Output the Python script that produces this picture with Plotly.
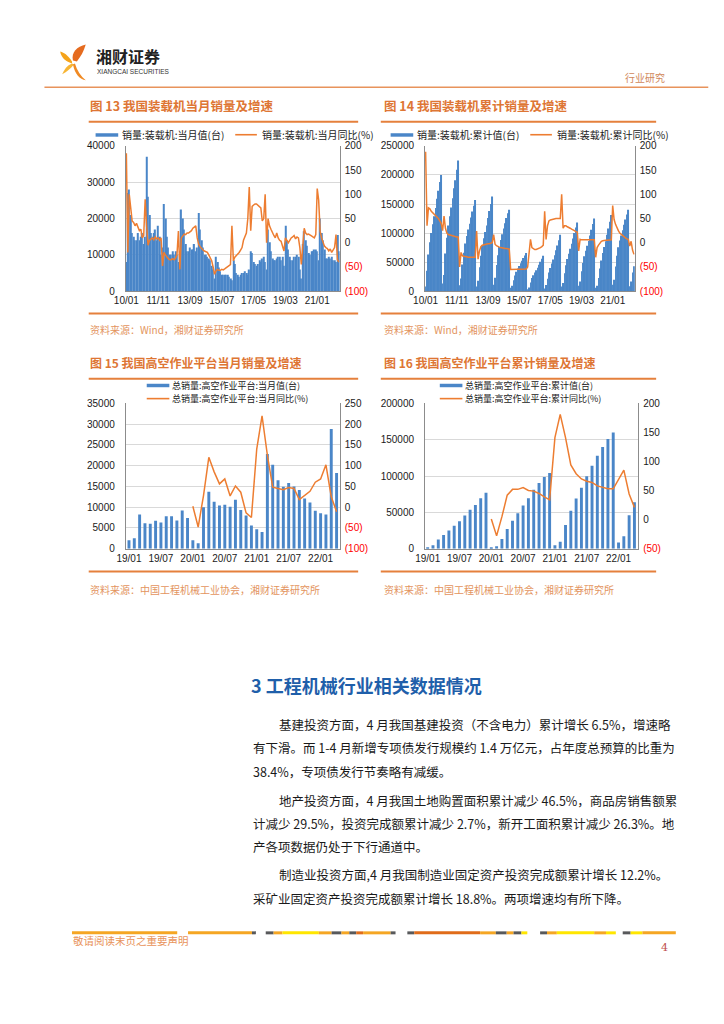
import plotly.graph_objects as go
import pandas as pd

W, H = 724, 1024
CJK = "Noto Sans CJK SC"
NUM = "Liberation Sans, Arial, sans-serif"
BAR_COLOR = "#4A86C8"
LINE_COLOR = "#ED7D31"
TITLE_COLOR = "#DE7634"
SRC_COLOR = "#E3945E"
RULE_COLOR = "#E5803C"

# ---------------- data ----------------
loader_month = pd.date_range("2010-01-01", periods=148, freq="MS").strftime("%Y-%m").tolist()

loader_monthly_sales = [
    8000, 27000, 28000, 21000, 16000, 15000, 14000, 14000, 16000, 14000, 15000, 16000,
    13000, 15000, 37000, 26000, 21000, 16000, 15000, 16000, 17000, 14000, 18000, 15000,
    10000, 12000, 24000, 20000, 15000, 12000, 10000, 10000, 11000, 10000, 11000, 10000,
    8000, 10000, 22500, 20000, 17000, 13000, 11000, 11000, 12000, 11500, 11500, 13000,
    11000, 12000, 21500, 17000, 14000, 12000, 10000, 10000, 9500, 9000, 8500, 7000,
    6000, 3500, 9500, 8000, 6500, 5500, 4500, 4500, 4500, 4500, 4500, 4000,
    3500, 3000, 8500, 7500, 5000, 4500, 4000, 4500, 5000, 5000, 5500, 5000,
    4500, 6000, 11000, 10500, 8000, 7500, 7000, 7500, 8500, 8000, 9000, 9500,
    8000, 6000, 17000, 13500, 11000, 9000, 8500, 8500, 9000, 9500, 9500, 8500,
    9500, 7000, 18000, 14000, 11500, 9500, 8500, 8500, 9500, 9500, 10000, 9500,
    6000, 3500, 13000, 16500, 14000, 12500, 10500, 10000, 11000, 11000, 11500, 11500,
    11000, 8500, 20000, 16000, 14000, 11500, 9000, 9000, 9500, 9000, 9500, 8500,
    8500, 8000, 15500, 11000,
]

loader_monthly_yoy = [
    185, -20, 100, 70, 45, 42, 35, 40, 30, 25, 28, 10,
    15, 90, 35, -5, 5, 8, 10, 6, 12, 8, 10, 5,
    10, -48, -20, -25, -30, -33, -35, -35, -33, -35, -32, -25,
    24, -55, 10, 15, 18, 17, 20, 20, 22, 25, 30, 33,
    35, 10, -3, -8, -12, -15, -17, -18, -20, -25, -30, -37,
    -50, -65, -58, -55, -57, -57, -55, -56, -54, -52, -50, -48,
    -45, 35, -37, -30, -27, -24, -20, -15, -10, 5, 14, 20,
    50, 115, 25, 75, 78, 80, 80, 77, 75, 72, 45, 50,
    100, 0, 50, 35, 28, 20, 15, 10, 20, 10, 5, 3,
    -5, -17, 10, 5, 0, 5, 10, 12, 15, 8, 12, 10,
    -10, -45, -10, 30, 20, 17, 18, 15, 14, 12, 10, 17,
    112, 88, 24, 10, 0, -7, -10, -12, -17, -13, -20, -15,
    -10, 17, -35, -40,
]

loader_cum_sales = [
    8000, 35000, 63000, 84000, 100000, 115000, 129000, 143000, 159000, 173000, 188000, 200000,
    13000, 28000, 65000, 92000, 113000, 129000, 144000, 160000, 177000, 191000, 209000, 225000,
    10000, 22000, 46000, 66000, 82000, 95000, 106000, 116000, 127000, 137000, 147000, 157000,
    8000, 18000, 41000, 61000, 78000, 91000, 102000, 113000, 126000, 138000, 150000, 163000,
    11000, 23000, 45000, 62000, 76000, 88000, 98000, 108000, 117000, 126000, 134000, 140000,
    6000, 9500, 19000, 27000, 33500, 39000, 43500, 48000, 52500, 57000, 61500, 65500,
    3500, 6500, 15000, 22500, 27500, 32000, 36000, 40500, 45500, 50500, 56000, 61000,
    4500, 10500, 21500, 32000, 40000, 47500, 54500, 62000, 70500, 78500, 87500, 97000,
    8000, 14000, 31000, 44500, 55500, 64500, 73000, 81500, 90500, 100000, 109500, 118000,
    9500, 16500, 34500, 48500, 60000, 69500, 78000, 86500, 96000, 105500, 115500, 125000,
    6000, 9500, 22500, 39000, 53000, 65500, 76000, 86000, 97000, 108000, 119500, 131000,
    11000, 19500, 42500, 61000, 75500, 87000, 96000, 105000, 114500, 123500, 132000, 140000,
    8500, 16500, 32000, 43000,
]

loader_cum_yoy = [
    188, 35, 72, 70, 65, 62, 60, 58, 55, 50, 45, 40,
    25, 55, 30, 20, 17, 16, 15, 14, 13, 13, 12, 12,
    -50, -20, -27, -28, -28, -29, -30, -30, -30, -30, -31, -30,
    24, -34, -17, -8, -5, -4, -3, -2, -2, -2, -1, 0,
    17, -3, -6, -8, -9, -10, -11, -11, -12, -12, -13, -13,
    -55, -55, -54, -55, -55, -55, -55, -55, -55, -55, -55, -54,
    -50, -20, 7, -10, -13, -14, -14, -13, -12, -10, -8, -5,
    65, 7, 35, 45, 47, 48, 48, 49, 50, 50, 50, 50,
    100, 30, 35, 35, 33, 32, 30, 28, 27, 25, 23, 22,
    -17, 7, 6, 6, 6, 6, 6, 6, 6, 6, 6, 6,
    -30, -10, -5, 0, 3, 4, 5, 5, 5, 5, 6, 6,
    77, 48, 38, 30, 25, 20, 17, 14, 12, 10, 8, 7,
    -7, 3, -15, -24,
]

loader_tick_month = ["2010-01", "2011-11", "2013-09", "2015-07", "2017-05", "2019-03", "2021-01"]
loader_tick_label = ["10/01", "11/11", "13/09", "15/07", "17/05", "19/03", "21/01"]

awp_month = pd.date_range("2019-01-01", periods=40, freq="MS").strftime("%Y-%m").tolist()

awp_monthly_sales = [
    2000, 2500, 8200, 6100, 6000, 6700, 6300, 7800, 7800, 6800, 9200, 7400,
    2000, 1300, 10000, 13700, 11300, 10400, 10600, 10100, 11800, 9300, 8000, 5600,
    4700, 4000, 22800, 20200, 16500, 14900, 15800, 15000, 14100, 12100, 11100, 9100,
    8500, 8200, 28800, 18200,
]
awp_monthly_yoy = [
    None, None, None, None, None, None, None, None, None, None, None, None,
    2, -48, 28, 120, 85, 56, 68, 27, 51, 36, -14, -25,
    140, 220, 125, 48, 45, 42, 47, 45, 18, 28, 38, 60,
    68, 102, 25, -11,
]
awp_cum_sales = [
    2000, 4500, 12700, 18800, 24800, 31500, 37800, 45600, 53400, 60200, 69400, 76800,
    2000, 3300, 13300, 27000, 38300, 48700, 59300, 69400, 81200, 90500, 98500, 104100,
    4700, 9500, 32500, 52000, 69000, 84000, 99500, 114000, 128000, 140000, 151000, 160000,
    8500, 17000, 46000, 64000,
]
awp_cum_yoy = [
    None, None, None, None, None, None, None, None, None, None, None, None,
    1, -28, 5, 42, 52, 52, 55, 50, 49, 45, 39, 34,
    141, 181, 141, 94, 79, 70, 66, 64, 58, 55, 53, 53,
    70, 85, 44, 21,
]
awp_tick_month = ["2019-01", "2019-07", "2020-01", "2020-07", "2021-01", "2021-07", "2022-01"]
awp_tick_label = ["19/01", "19/07", "20/01", "20/07", "21/01", "21/07", "22/01"]

# ---------------- helpers ----------------
def X(p):
    return p / W

def Y(p):
    return 1 - p / H

annotations = []
shapes = []

def note(x, y, text, size, color, xanchor="left", family=CJK, pad=1):
    annotations.append(dict(x=X(x), y=Y(y), xref="paper", yref="paper", text=text,
                            showarrow=False, xanchor=xanchor, yanchor="middle", borderpad=pad,
                            font=dict(family=family, size=size, color=color)))

def hline(x0, x1, y, color, width=2):
    shapes.append(dict(type="line", xref="paper", yref="paper", x0=X(x0), x1=X(x1),
                       y0=Y(y), y1=Y(y), line=dict(color=color, width=width)))

def rect(x0, x1, y0, y1, color):
    shapes.append(dict(type="rect", xref="paper", yref="paper", x0=X(x0), x1=X(x1),
                       y0=Y(y1), y1=Y(y0), fillcolor=color, line=dict(width=0)))

def path(cmds, color):
    parts = []
    for c in cmds:
        op, nums = c[0], c[1:]
        coords = []
        for k in range(0, len(nums), 2):
            coords.append(f"{X(nums[k]):.5f},{Y(nums[k + 1]):.5f}")
        parts.append(op + " " + " ".join(coords))
    shapes.append(dict(type="path", xref="paper", yref="paper", path=" ".join(parts) + " Z",
                       fillcolor=color, line=dict(width=0)))

def right_text(vals):
    out = []
    for v in vals:
        if v < 0:
            out.append(f"<span style='color:#FF0000'>({-v})</span>")
        else:
            out.append(str(v))
    return out

# ---------------- charts ----------------
charts = [
    dict(months=loader_month, bars=loader_monthly_sales, line=loader_monthly_yoy,
         bar_name="销量:装载机:当月值(台)", line_name="销量:装载机:当月同比(%)",
         px0=115.7, px1=333.3, py0=142.3, py1=289.0,
         yl=[0, 40000], dl=10000, yr=[-100, 200], rticks=[-100, -50, 0, 50, 100, 150, 200],
         tv=loader_tick_month, tt=loader_tick_label, width=0.8, xr=[-0.4, 147.6]),
    dict(months=loader_month, bars=loader_cum_sales, line=loader_cum_yoy,
         bar_name="销量:装载机:累计值(台)", line_name="销量:装载机:累计同比(%)",
         px0=420.0, px1=633.3, py0=142.3, py1=289.0,
         yl=[0, 250000], dl=50000, yr=[-100, 200], rticks=[-100, -50, 0, 50, 100, 150, 200],
         tv=loader_tick_month, tt=loader_tick_label, width=0.6, xr=[-0.4, 147.6]),
    dict(months=awp_month, bars=awp_monthly_sales, line=awp_monthly_yoy,
         bar_name="总销量:高空作业平台:当月值(台)", line_name="总销量:高空作业平台:当月同比(%)",
         px0=115.7, px1=333.3, py0=402.3, py1=549.0,
         yl=[0, 35000], dl=5000, yr=[-100, 250], rticks=[-100, -50, 0, 50, 100, 150, 200, 250],
         tv=awp_tick_month, tt=awp_tick_label, width=0.55, xr=[-0.6, 39.6]),
    dict(months=awp_month, bars=awp_cum_sales, line=awp_cum_yoy,
         bar_name="总销量:高空作业平台:累计值(台)", line_name="总销量:高空作业平台:累计同比(%)",
         px0=420.0, px1=636.7, py0=402.3, py1=549.0,
         yl=[0, 200000], dl=50000, yr=[-50, 200], rticks=[-50, 0, 50, 100, 150, 200],
         tv=awp_tick_month, tt=awp_tick_label, width=0.55, xr=[-0.5, 39.7]),
]

fig = go.Figure()
layout_axes = {}
AX_LINE = "#8C8C8C"
TICKFONT = dict(family=NUM, size=10, color="#1A1A1A")

for i, c in enumerate(charts, start=1):
    xa = "x" if i == 1 else f"x{i}"
    yl_id = 2 * i - 1
    yr_id = 2 * i
    yl = "y" if yl_id == 1 else f"y{yl_id}"
    yr = f"y{yr_id}"
    fig.add_trace(go.Bar(x=c["months"], y=c["bars"], name=c["bar_name"], marker_color=BAR_COLOR,
                         marker_line_width=0, width=c["width"], xaxis=xa, yaxis=yl, showlegend=False))
    fig.add_trace(go.Scatter(x=c["months"], y=c["line"], name=c["line_name"], mode="lines",
                             line=dict(color=LINE_COLOR, width=1.5), connectgaps=False,
                             xaxis=xa, yaxis=yr, showlegend=False))
    xkey = "xaxis" if i == 1 else f"xaxis{i}"
    ylkey = "yaxis" if yl_id == 1 else f"yaxis{yl_id}"
    yrkey = f"yaxis{yr_id}"
    layout_axes[xkey] = dict(type="category", domain=[X(c["px0"]), X(c["px1"])], range=c["xr"],
                             anchor=yl, tickmode="array", tickvals=c["tv"], ticktext=c["tt"],
                             showline=True, linecolor=AX_LINE, linewidth=1, showgrid=False,
                             ticks="", tickangle=0, tickfont=TICKFONT, fixedrange=True)
    layout_axes[ylkey] = dict(domain=[Y(c["py1"]), Y(c["py0"])], range=c["yl"], dtick=c["dl"],
                              tick0=0, anchor=xa, showgrid=True, gridcolor="#D9D9D9", gridwidth=1,
                              showline=True, linecolor=AX_LINE, linewidth=1, zeroline=False,
                              ticks="", ticklabelstandoff=8, tickfont=TICKFONT, tickformat="d")
    layout_axes[yrkey] = dict(overlaying=yl, side="right", anchor=xa, range=c["yr"],
                              tickmode="array", tickvals=c["rticks"], ticktext=right_text(c["rticks"]),
                              showgrid=False, showline=True, linecolor=AX_LINE, linewidth=1,
                              zeroline=False, ticks="", ticklabelstandoff=2, tickfont=TICKFONT)

# ---------------- manual legends ----------------
LEG = 10
LEG2 = 9
# chart 13
rect(85, 108, 129.5, 133, BAR_COLOR)
note(110, 131, charts[0]["bar_name"], LEG, "#222222")
hline(227, 249, 131, LINE_COLOR, 1.6)
note(252, 131, charts[0]["line_name"], LEG, "#222222")
# chart 14
rect(385, 408, 129.5, 133, BAR_COLOR)
note(410, 131, charts[1]["bar_name"], LEG, "#222222")
hline(527, 549, 131, LINE_COLOR, 1.6)
note(552, 131, charts[1]["line_name"], LEG, "#222222")
# chart 15
rect(137, 160, 382.5, 386, BAR_COLOR)
note(162, 384.5, charts[2]["bar_name"], LEG2, "#222222", pad=0)
hline(137, 160, 397.5, LINE_COLOR, 1.6)
note(162, 397.8, charts[2]["line_name"], LEG2, "#222222", pad=0)
# chart 16
rect(435, 458, 382.5, 386, BAR_COLOR)
note(460, 384.5, charts[3]["bar_name"], LEG2, "#222222", pad=0)
hline(435, 458, 397.5, LINE_COLOR, 1.6)
note(460, 397.8, charts[3]["line_name"], LEG2, "#222222", pad=0)

# ---------------- page furniture ----------------
# logo
path([("M", 62, 56), ("C", 60, 48, 66, 42, 75, 40), ("C", 73, 47, 70, 52, 66, 57)], "#E56B1F")
path([("M", 61, 57), ("C", 57, 51, 53, 48, 49, 47), ("C", 50, 53, 54, 57, 61, 59)], "#F5A31A")
path([("M", 61, 59), ("C", 56, 61, 53, 65, 51, 70), ("C", 56, 67, 60, 64, 63, 60)], "#F7B534")
path([("M", 64, 59), ("C", 66, 66, 70, 72, 75, 76), ("C", 69, 75, 64, 70, 62, 60)], "#F08A24")
note(83, 52, "<b>湘财证券</b>", 16, "#222222")
note(84, 67, "XIANGCAI SECURITIES", 6.5, "#333333", family="Liberation Sans Narrow, Liberation Sans")
note(666, 73, "行业研究", 10, "#D0875A", xanchor="right")
hline(33, 708, 83, "#E8935C", 1.5)

# figure titles and rules
note(77, 101, "<b>图 13 我国装载机当月销量及增速</b>", 12.5, TITLE_COLOR)
note(376, 101, "<b>图 14 我国装载机累计销量及增速</b>", 12.5, TITLE_COLOR)
hline(78, 352, 118, RULE_COLOR, 2)
hline(375, 655, 118, RULE_COLOR, 2)
hline(78, 352, 311.5, RULE_COLOR, 2)
hline(375, 655, 311.5, RULE_COLOR, 2)
note(77, 328, "资料来源：Wind，湘财证券研究所", 10, SRC_COLOR)
note(376, 328, "资料来源：Wind，湘财证券研究所", 10, SRC_COLOR)

note(77, 361, "<b>图 15 我国高空作业平台当月销量及增速</b>", 12, TITLE_COLOR)
note(376, 361, "<b>图 16 我国高空作业平台累计销量及增速</b>", 12, TITLE_COLOR)
hline(78, 352, 377.5, RULE_COLOR, 2)
hline(375, 655, 377.5, RULE_COLOR, 2)
hline(78, 352, 572, RULE_COLOR, 2)
hline(375, 655, 572, RULE_COLOR, 2)
note(77, 590, "资料来源：中国工程机械工业协会，湘财证券研究所", 10, SRC_COLOR)
note(376, 590, "资料来源：中国工程机械工业协会，湘财证券研究所", 10, SRC_COLOR)

# section heading and body
note(241, 687, "<b>3 工程机械行业相关数据情况</b>", 18, "#1F5FAA")
body_lines = [
    (269, 727, "基建投资方面，4 月我国基建投资（不含电力）累计增长 6.5%，增速略"),
    (243, 750, "有下滑。而 1-4 月新增专项债发行规模约 1.4 万亿元，占年度总预算的比重为"),
    (243, 774, "38.4%，专项债发行节奏略有减缓。"),
    (269, 803, "地产投资方面，4 月我国土地购置面积累计减少 46.5%，商品房销售额累"),
    (243, 827, "计减少 29.5%，投资完成额累计减少 2.7%，新开工面积累计减少 26.3%。地"),
    (243, 850, "产各项数据仍处于下行通道中。"),
    (269, 878, "制造业投资方面,4 月我国制造业固定资产投资完成额累计增长 12.2%。"),
    (243, 902, "采矿业固定资产投资完成额累计增长 18.8%。两项增速均有所下降。"),
]
for bx, by, bt in body_lines:
    note(bx, by, bt, 12.5, "#1A1A1A")

# footer decorative rule
A, G, Yw, D = "#F5A623", "#58595B", "#FFE600", "#E06C1A"
footer_segments = [
    (61, 168, A), (179, 244, A), (244, 248, G), (258, 266, G), (266, 275, A), (275, 312, Yw),
    (312, 325, A), (325, 335, G), (335, 343, A), (343, 350, G), (350, 357, D), (357, 385, A),
    (385, 390, G), (402, 409, G), (409, 476, D), (476, 492, A), (492, 503, G), (503, 510, A),
    (510, 518, G), (518, 524, Yw), (537, 544, G), (544, 554, A), (554, 592, Yw), (592, 604, A),
    (604, 614, Yw), (621, 629, G), (629, 641, Yw), (641, 675, A),
]
for s0, s1, col in footer_segments:
    rect(s0, s1, 935.5, 938.5, col)
note(60, 945, "敬请阅读末页之重要声明", 10.5, "#E8935A")
note(669, 952, "4", 11, "#C0504D", xanchor="right", family="DejaVu Serif, serif")

fig.update_layout(
    width=W, height=H,
    margin=dict(l=0, r=0, t=0, b=0),
    paper_bgcolor="white", plot_bgcolor="white",
    showlegend=False,
    bargap=0.1,
    annotations=annotations,
    shapes=shapes,
    font=dict(family=CJK, size=10, color="#1A1A1A"),
    **layout_axes,
)

fig.write_html(
    "out.html",
    config={"displayModeBar": False},
    post_script="document.body.style.margin='0px';document.body.style.padding='0px';",
)
